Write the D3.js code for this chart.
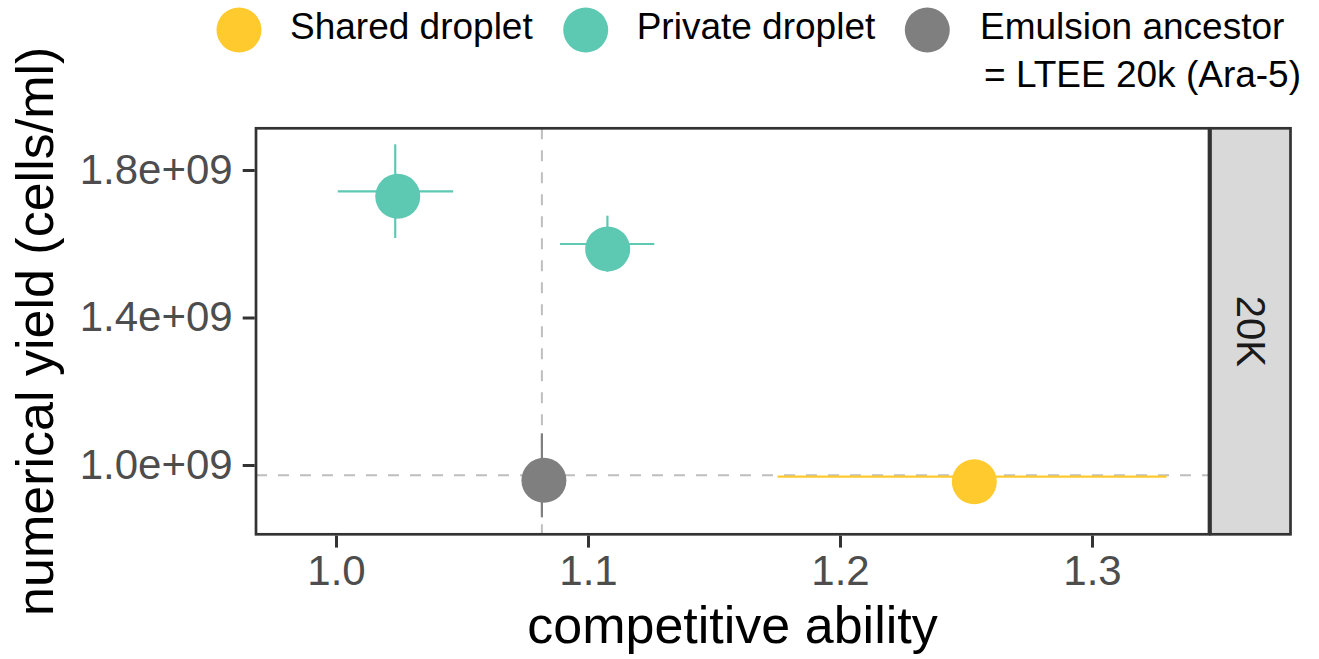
<!DOCTYPE html>
<html>
<head>
<meta charset="utf-8">
<script src="https://cdn.jsdelivr.net/npm/d3@7"></script>
<style>
  html, body { margin: 0; padding: 0; background: #fff; }
  svg { display: block; font-family: "Liberation Sans", Arial, Helvetica, sans-serif; }
</style>
</head>
<body>
<svg id="chart" width="1319" height="659"></svg>
<script>
// ---- data ----
const groups   = ["Shared droplet", "Private droplet", "Private droplet", "Emulsion ancestor"];
const pointX   = [1.2533, 1.0245, 1.1078, 1.0825];            // competitive ability
const pointY   = [0.9547e9, 1.7287e9, 1.5858e9, 0.9585e9];    // numerical yield
const xLow     = [1.1752, 1.0007, 1.0889, null];
const xHigh    = [1.3296, 1.0465, 1.1263, null];
const xBarY    = [0.9683e9, 1.7422e9, 1.5993e9, null];
const yLow     = [null, 1.6156e9, 1.5242e9, 0.8582e9];
const yHigh    = [null, 1.8697e9, 1.6761e9, 1.0860e9];
const yBarX    = [null, 1.0235, 1.1077, 1.0817];
const refX     = 1.0817;     // ancestor competitive ability
const refY     = 0.972e9;    // ancestor yield
const xTicks   = [1.0, 1.1, 1.2, 1.3];
const xTickLabels = ["1.0", "1.1", "1.2", "1.3"];
const yTicks   = [1.0e9, 1.4e9, 1.8e9];
const yTickLabels = ["1.0e+09", "1.4e+09", "1.8e+09"];
const legendLabels = ["Shared droplet", "Private droplet", "Emulsion ancestor"];
const legendLine2  = "= LTEE 20k (Ara-5)";
const colors   = ["#FFCA2E", "#5DC9B3", "#7F7F7F"];
const stripLabel = "20K";
const xTitle = "competitive ability";
const yTitle = "numerical yield (cells/ml)";

// ---- layout ----
const panel = { left: 256, right: 1209, top: 128.3, bottom: 534.3 };
const strip = { left: 1210.5, right: 1290.5 };

const svg = d3.select("#chart");
const color = d3.scaleOrdinal().domain(legendLabels).range(colors);
const x = d3.scaleLinear().domain([0.96825, 1.34643]).range([panel.left, panel.right]);
const y = d3.scaleLinear().domain([0.8121e9, 1.9131e9]).range([panel.bottom, panel.top]);

// panel background
svg.append("rect")
  .attr("x", panel.left).attr("y", panel.top)
  .attr("width", panel.right - panel.left).attr("height", panel.bottom - panel.top)
  .attr("fill", "#fff");

// reference lines
svg.append("line")
  .attr("x1", panel.left).attr("x2", panel.right)
  .attr("y1", y(refY)).attr("y2", y(refY))
  .attr("stroke", "#BEBEBE").attr("stroke-width", 2).attr("stroke-dasharray", "11,11");
svg.append("line")
  .attr("x1", x(refX)).attr("x2", x(refX))
  .attr("y1", panel.top).attr("y2", panel.bottom)
  .attr("stroke", "#BEBEBE").attr("stroke-width", 2).attr("stroke-dasharray", "11,11");

const idx = d3.range(pointX.length);

// horizontal error bars
svg.append("g").selectAll("line")
  .data(idx.filter(i => xLow[i] !== null))
  .join("line")
  .attr("x1", i => x(xLow[i])).attr("x2", i => x(xHigh[i]))
  .attr("y1", i => y(xBarY[i])).attr("y2", i => y(xBarY[i]))
  .attr("stroke", i => color(groups[i])).attr("stroke-width", 2.2);

// vertical error bars
svg.append("g").selectAll("line")
  .data(idx.filter(i => yLow[i] !== null))
  .join("line")
  .attr("x1", i => x(yBarX[i])).attr("x2", i => x(yBarX[i]))
  .attr("y1", i => y(yLow[i])).attr("y2", i => y(yHigh[i]))
  .attr("stroke", i => color(groups[i])).attr("stroke-width", 2.2);

// points
svg.append("g").selectAll("circle")
  .data(idx)
  .join("circle")
  .attr("cx", i => x(pointX[i])).attr("cy", i => y(pointY[i]))
  .attr("r", 22.5)
  .attr("fill", i => color(groups[i]));

// panel border
svg.append("rect")
  .attr("x", panel.left).attr("y", panel.top)
  .attr("width", panel.right - panel.left).attr("height", panel.bottom - panel.top)
  .attr("fill", "none").attr("stroke", "#333333").attr("stroke-width", 2.7);

// strip
svg.append("rect")
  .attr("x", strip.left).attr("y", panel.top)
  .attr("width", strip.right - strip.left).attr("height", panel.bottom - panel.top)
  .attr("fill", "#D9D9D9").attr("stroke", "#333333").attr("stroke-width", 2.7);
svg.append("text")
  .attr("transform", `translate(${(strip.left + strip.right) / 2},${(panel.top + panel.bottom) / 2}) rotate(90)`)
  .attr("text-anchor", "middle").attr("dominant-baseline", "central")
  .attr("font-size", 40).attr("fill", "#1A1A1A")
  .text(stripLabel);

// x axis
const xAxis = d3.axisBottom(x).tickValues(xTicks)
  .tickFormat((d, i) => xTickLabels[i]).tickSize(12).tickPadding(8);
const gx = svg.append("g").attr("transform", `translate(0,${panel.bottom + 1.3})`).call(xAxis);
gx.select(".domain").remove();
gx.selectAll(".tick line").attr("stroke", "#333333").attr("stroke-width", 3);
gx.selectAll(".tick text").attr("font-size", 42).attr("fill", "#4D4D4D")
  .attr("font-family", "'Liberation Sans', Arial, Helvetica, sans-serif");

// y axis
const yAxis = d3.axisLeft(y).tickValues(yTicks)
  .tickFormat((d, i) => yTickLabels[i]).tickSize(12).tickPadding(10);
const gy = svg.append("g").attr("transform", `translate(${panel.left - 1.3},0)`).call(yAxis);
gy.select(".domain").remove();
gy.selectAll(".tick line").attr("stroke", "#333333").attr("stroke-width", 3);
gy.selectAll(".tick text").attr("font-size", 42).attr("fill", "#4D4D4D")
  .attr("font-family", "'Liberation Sans', Arial, Helvetica, sans-serif");

// axis titles
svg.append("text")
  .attr("x", (panel.left + panel.right) / 2).attr("y", 643)
  .attr("text-anchor", "middle").attr("font-size", 52).attr("fill", "#000")
  .text(xTitle);
svg.append("text")
  .attr("transform", `translate(53,${(panel.top + panel.bottom) / 2}) rotate(-90)`)
  .attr("text-anchor", "middle").attr("font-size", 52).attr("fill", "#000")
  .text(yTitle);

// legend
const legendCX = [239, 585.7, 927.3];
const legendTX = [290, 636.7, 980];
const lg = svg.append("g");
legendLabels.forEach((lab, i) => {
  lg.append("circle").attr("cx", legendCX[i]).attr("cy", 30).attr("r", 22.5).attr("fill", color(lab));
  lg.append("text").attr("x", legendTX[i]).attr("y", 38.5)
    .attr("font-size", 37).attr("fill", "#000").text(lab);
});
lg.append("text").attr("x", 984).attr("y", 86.5)
  .attr("font-size", 37).attr("fill", "#000").text(legendLine2);
</script>
</body>
</html>
